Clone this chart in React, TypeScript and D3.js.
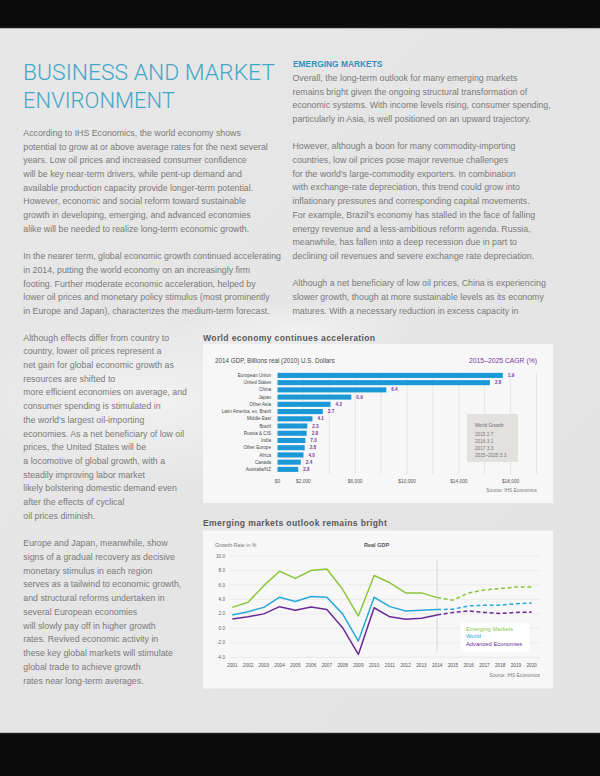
import React from 'react';
import * as d3 from 'd3';

// ---------- DATA ----------
const barCategories = [
  'European Union', 'United States', 'China', 'Japan', 'Other Asia',
  'Latin America, ex. Brazil', 'Middle East', 'Brazil', 'Russia & CIS',
  'India', 'Other Europe', 'Africa', 'Canada', 'Australia/NZ',
];
const gdp2014 = [17400, 16400, 8400, 5700, 4100, 3500, 2700, 2300, 2250, 2150, 2100, 2000, 1800, 1600];
const cagrLabels = ['1.9', '2.8', '6.4', '0.9', '4.2', '3.7', '4.1', '2.3', '2.8', '7.0', '2.8', '4.0', '2.4', '2.8'];
const barTickValues = [0, 2000, 6000, 10000, 14000, 18000];
const barGridValues = [2000, 4000, 6000, 8000, 10000, 12000, 14000, 16000, 18000, 20000];
const worldGrowthLines = ['2015 2.7', '2016 3.1', '2017 3.3', '2015–2025 3.3'];

const years = [2001, 2002, 2003, 2004, 2005, 2006, 2007, 2008, 2009, 2010,
  2011, 2012, 2013, 2014, 2015, 2016, 2017, 2018, 2019, 2020];
const emerging = [2.9, 3.6, 5.9, 7.9, 6.9, 8.0, 8.2, 5.4, 1.7, 7.3, 6.3, 4.9, 4.9, 4.25, 3.9, 4.9, 5.3, 5.5, 5.7, 5.7];
const world = [1.85, 2.3, 2.9, 4.3, 3.7, 4.4, 4.3, 2.0, -1.75, 4.3, 3.0, 2.4, 2.5, 2.6, 2.65, 3.1, 3.2, 3.2, 3.4, 3.5];
const advanced = [1.3, 1.6, 2.0, 3.0, 2.5, 2.95, 2.6, 0.1, -3.6, 2.85, 1.6, 1.25, 1.4, 1.85, 2.2, 2.4, 2.2, 2.05, 2.2, 2.25];
const yTicks = [10, 8, 6, 4, 2, 0, -2, -4];
const forecastStart = 2014;

const headingLines = ['BUSINESS AND MARKET', 'ENVIRONMENT'];
const leftTopText = [
  'According to IHS Economics, the world economy shows',
  'potential to grow at or above average rates for the next several',
  'years. Low oil prices and increased consumer confidence',
  'will be key near-term drivers, while pent-up demand and',
  'available production capacity provide longer-term potential.',
  'However, economic and social reform toward sustainable',
  'growth in developing, emerging, and advanced economies',
  'alike will be needed to realize long-term economic growth.',
  '',
  'In the nearer term, global economic growth continued accelerating',
  'in 2014, putting the world economy on an increasingly firm',
  'footing. Further moderate economic acceleration, helped by',
  'lower oil prices and monetary policy stimulus (most prominently',
  'in Europe and Japan), characterizes the medium-term forecast.',
];
const rightText = [
  'Overall, the long-term outlook for many emerging markets',
  'remains bright given the ongoing structural transformation of',
  'economic systems. With income levels rising, consumer spending,',
  'particularly in Asia, is well positioned on an upward trajectory.',
  '',
  'However, although a boon for many commodity-importing',
  'countries, low oil prices pose major revenue challenges',
  "for the world's large-commodity exporters. In combination",
  'with exchange-rate depreciation, this trend could grow into',
  'inflationary pressures and corresponding capital movements.',
  "For example, Brazil's economy has stalled in the face of falling",
  'energy revenue and a less-ambitious reform agenda. Russia,',
  'meanwhile, has fallen into a deep recession due in part to',
  'declining oil revenues and severe exchange rate depreciation.',
  '',
  'Although a net beneficiary of low oil prices, China is experiencing',
  'slower growth, though at more sustainable levels as its economy',
  'matures. With a necessary reduction in excess capacity in',
];
const leftBottomText = [
  'Although effects differ from country to',
  'country, lower oil prices represent a',
  'net gain for global economic growth as',
  'resources are shifted to',
  'more efficient economies on average, and',
  'consumer spending is stimulated in',
  "the world's largest oil-importing",
  'economies. As a net beneficiary of low oil',
  'prices, the United States will be',
  'a locomotive of global growth, with a',
  'steadily improving labor market',
  'likely bolstering domestic demand even',
  'after the effects of cyclical',
  'oil prices diminish.',
  '',
  'Europe and Japan, meanwhile, show',
  'signs of a gradual recovery as decisive',
  'monetary stimulus in each region',
  'serves as a tailwind to economic growth,',
  'and structural reforms undertaken in',
  'several European economies',
  'will slowly pay off in higher growth',
  'rates. Revived economic activity in',
  'these key global markets will stimulate',
  'global trade to achieve growth',
  'rates near long-term averages.',
];

// ---------- STYLE ----------
const BODY_FONT = '"Liberation Sans", Arial, sans-serif';
const BODY_COLOR = '#7a7a7a';
const BODY_SIZE = 8.8;
const LINE_STEP = 13.7;
const TEAL = '#45a6ca';
const BAR_BLUE = '#1b99d6';
const PURPLE = '#7a3aa0';
const GREEN = '#8cc63f';
const BLUE = '#2aa8d8';
const DEEP_PURPLE = '#6a2a95';

function TextBlock({ lines, x, y0, step = LINE_STEP }: { lines: string[]; x: number; y0: number; step?: number }) {
  return (
    <g fontFamily={BODY_FONT} fontSize={BODY_SIZE} fill={BODY_COLOR}>
      {lines.map((l, i) => (l ? <text key={i} x={x} y={y0 + i * step}>{l}</text> : null))}
    </g>
  );
}

function BarChart() {
  const x = d3.scaleLinear().domain([0, 20000]).range([277.5, 536.5]);
  const y = d3.scaleBand().domain(barCategories).range([371.8, 473]).paddingInner(0.3).paddingOuter(0.15);
  const fmt = (v: number) => '$' + d3.format(',')(v);
  return (
    <g fontFamily={BODY_FONT}>
      <text x={203} y={341} fontSize={8.6} fontWeight={700} fill="#5a5a5a" letterSpacing={0.35}>World economy continues acceleration</text>
      <rect x={203} y={344} width={350} height={159} fill="#f7f7f7" />
      <text x={215} y={362.5} fontSize={6.3} fill="#4a4a4a">2014 GDP, Billions real (2010) U.S. Dollars</text>
      <text x={537} y={363} fontSize={6.8} fill={PURPLE} textAnchor="end">2015–2025 CAGR (%)</text>
      {barGridValues.map((v) => (
        <line key={v} x1={x(v)} x2={x(v)} y1={372} y2={474} stroke="#e1e1e1" strokeWidth={0.8} />
      ))}
      {barCategories.map((c, i) => (
        <g key={c}>
          <rect x={x(0)} y={y(c)!} width={x(gdp2014[i]) - x(0)} height={y.bandwidth()} fill={BAR_BLUE} />
          <text x={271} y={y(c)! + y.bandwidth() / 2 + 1.6} fontSize={4.6} fill="#4a4a4a" textAnchor="end">{c}</text>
          <text x={x(gdp2014[i]) + 5} y={y(c)! + y.bandwidth() / 2 + 1.6} fontSize={4.6} fontWeight={700} fill={PURPLE}>{cagrLabels[i]}</text>
        </g>
      ))}
      {barTickValues.map((v) => (
        <text key={v} x={x(v)} y={482.5} fontSize={4.8} fill="#555" textAnchor="middle">{fmt(v)}</text>
      ))}
      <text x={537} y={492} fontSize={4.8} fill="#777" textAnchor="end">Source: IHS Economics</text>
      <rect x={467} y={414} width={51} height={48} fill="#e2e1de" />
      <text x={475} y={426.5} fontSize={4.7} fill="#6a6a6a">World Growth</text>
      {worldGrowthLines.map((l, i) => (
        <text key={l} x={475} y={435.5 + i * 7.3} fontSize={4.7} fill="#7a7a7a">{l}</text>
      ))}
    </g>
  );
}

function LineChart() {
  const x = d3.scaleLinear().domain([2001, 2020]).range([232.3, 531.7]);
  const y = d3.scaleLinear().domain([-4, 10]).range([657.3, 556]);
  const series = [
    { name: 'Emerging Markets', values: emerging, color: GREEN },
    { name: 'World', values: world, color: BLUE },
    { name: 'Advanced Economies', values: advanced, color: DEEP_PURPLE },
  ];
  const line = d3.line<[number, number]>().x((d) => x(d[0])).y((d) => y(d[1]));
  return (
    <g fontFamily={BODY_FONT}>
      <text x={203} y={525.5} fontSize={8.6} fontWeight={700} fill="#5a5a5a" letterSpacing={0.35}>Emerging markets outlook remains bright</text>
      <rect x={203} y={530.5} width={350} height={158} fill="#f7f7f7" />
      <text x={215} y={546.5} fontSize={5.3} fill="#777">Growth Rate in %</text>
      <text x={364} y={546.5} fontSize={5.5} fontWeight={700} fill="#555">Real GDP</text>
      {yTicks.map((t) => (
        <g key={t}>
          <line x1={229} x2={540} y1={y(t)} y2={y(t)} stroke="#e6e6e6" strokeWidth={0.7} />
          <text x={225} y={y(t) + 1.6} fontSize={4.7} fill="#666" textAnchor="end">{t.toFixed(1)}</text>
        </g>
      ))}
      <line x1={x(forecastStart)} x2={x(forecastStart)} y1={560} y2={652} stroke="#cfcfcf" strokeWidth={0.8} />
      {series.map((s) => {
        const pts = years.map((yr, i) => [yr, s.values[i]] as [number, number]);
        const hist = pts.filter((p) => p[0] <= forecastStart);
        const fc = pts.filter((p) => p[0] >= forecastStart);
        return (
          <g key={s.name}>
            <path d={line(hist)!} fill="none" stroke={s.color} strokeWidth={1.5} strokeLinejoin="round" />
            <path d={line(fc)!} fill="none" stroke={s.color} strokeWidth={1.5} strokeDasharray="4 2.6" />
          </g>
        );
      })}
      {years.map((yr) => (
        <text key={yr} x={x(yr)} y={666.8} fontSize={4.7} fill="#555" textAnchor="middle">{yr}</text>
      ))}
      <text x={540} y={677} fontSize={4.8} fill="#777" textAnchor="end">Source: IHS Economics</text>
      <rect x={460.7} y={622.7} width={68.6} height={29} fill="#ffffff" />
      {series.map((s, i) => (
        <text key={s.name} x={466} y={630.6 + i * 7.6} fontSize={5.8} fill={s.color}>{s.name}</text>
      ))}
    </g>
  );
}

export default function App() {
  return (
    <svg width={600} height={776} viewBox="0 0 600 776" style={{ position: 'absolute', left: 0, top: 0 }}>
      <defs>
        <linearGradient id="pageBg" x1="0" y1="0" x2="1" y2="1">
          <stop offset="0" stopColor="#e7e7e7" />
          <stop offset="1" stopColor="#e3e3e3" />
        </linearGradient>
        <radialGradient id="plane" cx="0.5" cy="0.5" r="0.5">
          <stop offset="0" stopColor="#ffffff" stopOpacity="0.45" />
          <stop offset="1" stopColor="#ffffff" stopOpacity="0" />
        </radialGradient>
      </defs>
      <rect x={0} y={0} width={600} height={776} fill="#0b0b0b" />
      <rect x={0} y={28} width={600} height={705} fill="url(#pageBg)" />
      <line x1={0} x2={600} y1={28.3} y2={28.3} stroke="#8a8a8a" strokeWidth={0.7} />
      <line x1={0} x2={600} y1={732.8} y2={732.8} stroke="#8a8a8a" strokeWidth={0.7} />
      <ellipse cx={150} cy={400} rx={190} ry={90} fill="url(#plane)" />
      <ellipse cx={300} cy={330} rx={120} ry={30} fill="url(#plane)" />

      <g fontFamily='Roboto, "Liberation Sans", sans-serif' fontWeight={300} fontSize={22.5} fill={TEAL}>
        <text x={23} y={80.3} textLength={252} lengthAdjust="spacingAndGlyphs">{headingLines[0]}</text>
        <text x={23} y={108.3} textLength={152} lengthAdjust="spacingAndGlyphs">{headingLines[1]}</text>
      </g>
      <TextBlock lines={leftTopText} x={23.3} y0={135.8} />
      <text x={293} y={67.3} fontFamily={BODY_FONT} fontSize={8.4} fontWeight={700} fill="#2e93bd">EMERGING MARKETS</text>
      <TextBlock lines={rightText} x={292.5} y0={80.8} />
      <TextBlock lines={leftBottomText} x={23.3} y0={340.5} step={13.72} />

      <BarChart />
      <LineChart />
    </svg>
  );
}
